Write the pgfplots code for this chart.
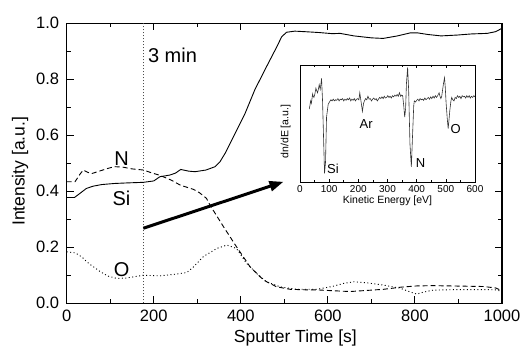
\documentclass[border=0pt]{standalone}
\usepackage{pgfplots}
\pgfplotsset{compat=1.18}
\usepackage{fontspec}
\setmainfont{Liberation Sans}
\usetikzlibrary{arrows.meta}
\begin{document}
\begin{tikzpicture}[x=1pt,y=1pt]
\begin{axis}[
  name=main, at={(66.7pt,47.7pt)}, anchor=south west,
  scale only axis, width=435.3pt, height=280pt,
  xmin=0, xmax=1000, ymin=0, ymax=1,
  xtick={0,200,400,600,800,1000}, minor x tick num=1,
  ytick={0,0.2,0.4,0.6,0.8,1.0}, minor y tick num=1,
  major tick length=7pt, minor tick length=4pt,
  every tick/.style={black, line width=0.9pt},
  axis line style={line width=1.1pt},
  /pgf/number format/assume math mode=true,
  /pgf/number format/1000 sep={},
  yticklabel style={xshift=-4pt, /pgf/number format/fixed, /pgf/number format/fixed zerofill, /pgf/number format/precision=1},
  tick label style={font=\fontsize{16.5pt}{18pt}\selectfont},
  xticklabel style={yshift=-3pt},
  xlabel={Sputter Time [s]}, ylabel={Intensity [a.u.]},
  every axis x label/.style={at={(axis description cs:0.5,0)}, xshift=11pt, yshift=-35pt, anchor=center, font=\fontsize{17.5pt}{20pt}\selectfont},
  every axis y label/.style={at={(axis description cs:0,0.5)}, xshift=-46.7pt, yshift=-8pt, rotate=90, anchor=center, font=\fontsize{17.5pt}{20pt}\selectfont},
]
% vertical marker
\addplot[black!70, line width=0.9pt, dash pattern=on 1pt off 2pt] coordinates {(176,0) (176,1)};
% Si
\addplot[black, line width=0.9pt] coordinates {
(0,0.378) (18,0.378) (30,0.392) (45,0.41) (60,0.418) (80,0.424) (110,0.428) (140,0.43) (176,0.432) (200,0.437) (214,0.452) (237,0.458) (250,0.465) (262,0.478) (280,0.472) (295,0.47) (320,0.476) (341,0.488) (352,0.505) (364,0.536) (387,0.607) (410,0.679) (432,0.762) (455,0.833) (479,0.905) (494,0.952) (505,0.968) (524,0.972) (548,0.97) (580,0.967) (610,0.963) (628,0.964) (660,0.955) (700,0.948) (727,0.946) (760,0.955) (790,0.966) (805,0.966) (830,0.96) (860,0.955) (897,0.958) (930,0.962) (966,0.964) (985,0.97) (1000,0.982)};
% N
\addplot[black, line width=0.9pt, dash pattern=on 5pt off 3pt] coordinates {
(0,0.434) (19,0.434) (30,0.46) (38,0.476) (48,0.468) (57,0.463) (75,0.472) (95,0.482) (110,0.488) (130,0.486) (150,0.48) (176,0.476) (195,0.466) (214,0.457) (240,0.44) (261,0.422) (291,0.407) (305,0.395) (321,0.375) (329,0.351) (360,0.274) (390,0.202) (421,0.131) (452,0.083) (482,0.059) (513,0.05) (551,0.048) (574,0.048) (610,0.045) (651,0.042) (690,0.046) (728,0.05) (770,0.058) (804,0.062) (840,0.063) (881,0.062) (920,0.061) (957,0.06) (985,0.055) (1000,0.045)};
% O
\addplot[black, line width=0.9pt, dash pattern=on 1pt off 2.5pt] coordinates {
(0,0.184) (20,0.18) (35,0.165) (50,0.143) (77,0.113) (95,0.097) (115,0.089) (135,0.09) (160,0.096) (176,0.1) (214,0.098) (250,0.104) (276,0.11) (290,0.128) (314,0.167) (345,0.196) (368,0.208) (390,0.196) (413,0.143) (436,0.107) (459,0.077) (490,0.059) (528,0.05) (574,0.05) (610,0.06) (636,0.071) (660,0.077) (690,0.073) (728,0.065) (766,0.054) (790,0.04) (804,0.033) (820,0.04) (842,0.047) (900,0.049) (957,0.049) (985,0.048) (1000,0.043)};
\node[font=\fontsize{20pt}{22pt}\selectfont] at (axis cs:126,0.518) {N};
\node[font=\fontsize{20pt}{22pt}\selectfont] at (axis cs:126,0.375) {Si};
\node[font=\fontsize{20pt}{22pt}\selectfont] at (axis cs:126,0.119) {O};
\node[font=\fontsize{20pt}{22pt}\selectfont] at (axis cs:243,0.887) {3 min};
\draw[line width=3pt, -{Triangle[length=14pt,width=10pt]}] (axis cs:176,0.268) -- (axis cs:498,0.434);
\end{axis}
\begin{axis}[
  at={(300pt,169pt)}, anchor=south west,
  scale only axis, width=175pt, height=117pt,
  xmin=0, xmax=600, ymin=0, ymax=1.01,
  xtick={0,100,200,300,400,500,600}, minor x tick num=1,
  ytick=\empty,
  major tick length=3pt, minor tick length=2pt,
  every tick/.style={black, line width=0.6pt},
  axis line style={line width=0.8pt},
  /pgf/number format/assume math mode=true,
  tick label style={font=\fontsize{10pt}{12pt}\selectfont},
  xlabel={Kinetic Energy [eV]}, ylabel={dn/dE [a.u.]},
  every axis x label/.style={at={(axis description cs:0.5,0)}, yshift=-19pt, anchor=center, font=\fontsize{10.5pt}{12pt}\selectfont},
  every axis y label/.style={at={(axis description cs:0,0.5)}, xshift=-14.3pt, yshift=-8pt, rotate=90, anchor=center, font=\fontsize{10.5pt}{12pt}\selectfont},
]
\addplot[black!80, line width=0.6pt] coordinates {
(31.8,0.63) (34,0.66) (36.4,0.70) (39,0.68) (43.2,0.76) (45,0.74) (47.7,0.73) (51,0.76) (54.5,0.81) (57,0.79) (60.2,0.77) (63,0.80) (65.9,0.84) (69.3,0.80) (71,0.83) (73.9,0.895) (77.3,0.70) (80.7,0.39) (84.1,0.074) (87.5,0.17) (91,0.56) (96.6,0.67) (102,0.695) (106,0.71) (110,0.70) (114,0.715) (118,0.70) (122,0.71) (126,0.705) (130,0.72) (134,0.70) (138,0.715) (142,0.71) (146,0.72) (150,0.70) (154,0.715) (158,0.705) (162,0.72) (166,0.71) (170,0.725) (174,0.70) (178,0.715) (182,0.705) (186,0.72) (190,0.70) (194,0.715) (198,0.72) (202,0.71) (205,0.77) (209,0.70) (214,0.61) (218,0.68) (221,0.70) (225,0.72) (229,0.71) (233,0.74) (237,0.715) (241,0.72) (245,0.70) (249,0.715) (253,0.725) (257,0.71) (261,0.72) (265,0.70) (269,0.715) (273,0.73) (277,0.72) (281,0.735) (285,0.72) (289,0.74) (293,0.725) (297,0.73) (301,0.745) (305,0.73) (309,0.74) (313,0.725) (317,0.745) (321,0.735) (325,0.75) (329,0.74) (333,0.755) (337,0.74) (341,0.77) (345,0.74) (349,0.75) (352,0.745) (356,0.65) (359,0.56) (362,0.63) (365,0.85) (369,0.99) (372.6,0.79) (377,0.33) (381.8,0.13) (386,0.41) (390,0.66) (392,0.70) (396,0.69) (400,0.705) (404,0.715) (408,0.70) (412,0.72) (416,0.71) (420,0.715) (424,0.705) (428,0.725) (432,0.71) (436,0.72) (440,0.73) (444,0.715) (448,0.735) (452,0.72) (456,0.74) (460,0.725) (464,0.745) (468,0.73) (472,0.745) (477,0.77) (480,0.74) (483,0.72) (486,0.74) (488.6,0.79) (492,0.85) (495.5,0.90) (498,0.82) (501,0.68) (504.5,0.56) (508,0.46) (511,0.54) (513.6,0.615) (517,0.69) (520,0.73) (524,0.71) (528,0.70) (532,0.73) (536,0.72) (540,0.745) (544,0.73) (548,0.74) (552,0.72) (556,0.745) (560,0.735) (564,0.74) (568,0.725) (572,0.745) (576,0.73) (580,0.745) (584,0.725) (588,0.74) (592,0.73) (596,0.745) (600,0.735)};
\node[font=\fontsize{13pt}{15pt}\selectfont] at (axis cs:113,0.117) {Si};
\node[font=\fontsize{13pt}{15pt}\selectfont] at (axis cs:227,0.50) {Ar};
\node[font=\fontsize{13pt}{15pt}\selectfont] at (axis cs:413,0.16) {N};
\node[font=\fontsize{13pt}{15pt}\selectfont] at (axis cs:534,0.46) {O};
\end{axis}
\pgfresetboundingbox
\useasboundingbox (0,0) rectangle (523pt,351pt);
\end{tikzpicture}
\end{document}
